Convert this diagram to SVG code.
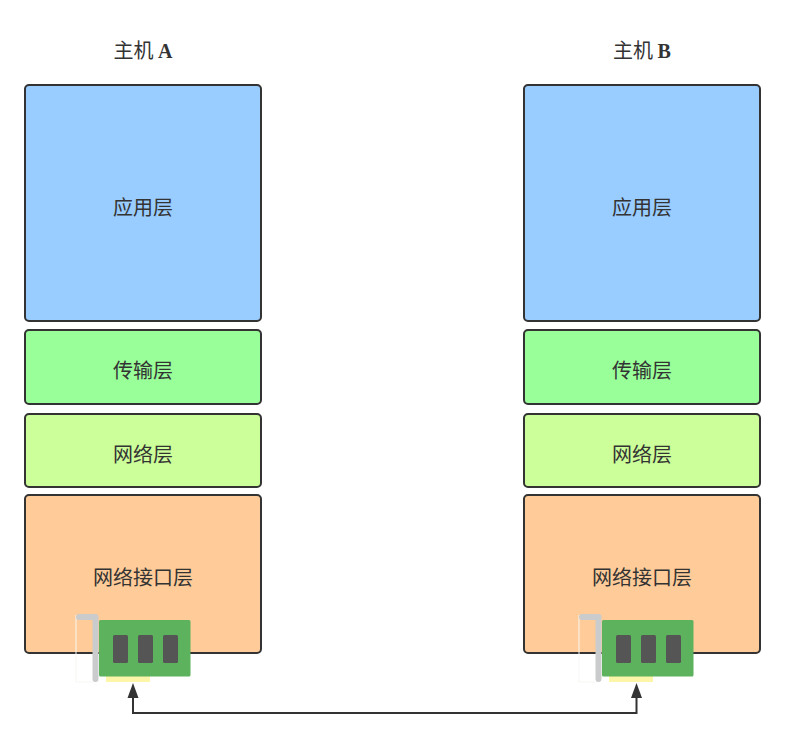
<svg xmlns="http://www.w3.org/2000/svg" width="785" height="737" viewBox="0 0 785 737">
<style>
.box{stroke:#333;stroke-width:2}
.app{fill:#99ccff}.tra{fill:#99ff99}.net{fill:#ccff99}.lnk{fill:#ffcc99}
text{font-family:"Noto Sans CJK SC","Liberation Serif",serif;font-size:20px;fill:#333;text-anchor:middle}
.h tspan{font-family:"Liberation Serif",serif;font-weight:bold}
.card{fill:#5cb25d}.slot{fill:#555}.gold{fill:#fdf5a8}.br{fill:none;stroke:#c9cbcc;stroke-width:6;stroke-linejoin:round;stroke-linecap:round}
.ghost{fill:none;stroke:#f6f6f3;stroke-width:1}
.wire{fill:none;stroke:#333;stroke-width:2}
</style>
<defs>
<g id="nic">
<path class="ghost" d="M76 615V682H94"/>
<rect class="gold" x="106" y="674" width="44" height="8"/>
<path class="br" d="M79 617H95.500V679"/>
<rect class="card" x="99" y="620" width="91.500" height="56.500" rx="1.500"/>
<rect class="slot" x="113" y="635" width="15" height="28" rx="1.500"/>
<rect class="slot" x="138" y="635" width="15" height="28" rx="1.500"/>
<rect class="slot" x="163" y="635" width="15" height="28" rx="1.500"/>
</g>
</defs>
<g id="hostA">
<text class="h" x="143" y="58">主机 <tspan>A</tspan></text>
</g>
<g id="hostB">
<text class="h" x="642" y="58">主机 <tspan>B</tspan></text>
</g>
<g id="a-app"><rect class="box app" x="25" y="85" width="236" height="236" rx="4"/><text x="143" y="215">应用层</text></g>
<g id="a-tra"><rect class="box tra" x="25" y="330" width="236" height="74" rx="4"/><text x="143" y="378">传输层</text></g>
<g id="a-net"><rect class="box net" x="25" y="414" width="236" height="73" rx="4"/><text x="143" y="462">网络层</text></g>
<g id="a-lnk"><rect class="box lnk" x="25" y="495" width="236" height="158" rx="4"/><text x="143" y="585">网络接口层</text></g>
<g id="b-app"><rect class="box app" x="524" y="85" width="236" height="236" rx="4"/><text x="642" y="215">应用层</text></g>
<g id="b-tra"><rect class="box tra" x="524" y="330" width="236" height="74" rx="4"/><text x="642" y="378">传输层</text></g>
<g id="b-net"><rect class="box net" x="524" y="414" width="236" height="73" rx="4"/><text x="642" y="462">网络层</text></g>
<g id="b-lnk"><rect class="box lnk" x="524" y="495" width="236" height="158" rx="4"/><text x="642" y="585">网络接口层</text></g>
<g id="nic-a"><use href="#nic"/></g>
<g id="nic-b"><use href="#nic" x="503"/></g>
<g id="connectors">
<path class="wire" d="M133 698V713H636.500V698"/>
<path d="M133 683L138.500 698H127.500Z" fill="#333"/>
<path d="M636.500 683L642 698H631Z" fill="#333"/>
</g>
</svg>
